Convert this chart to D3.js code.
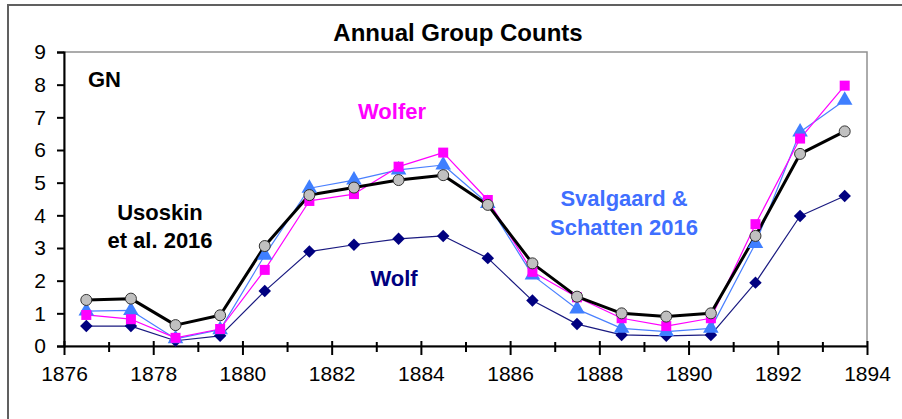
<!DOCTYPE html>
<html>
<head>
<meta charset="utf-8">
<script src="https://cdn.jsdelivr.net/npm/d3@7"></script>
<style>
  body { margin: 0; background: #fff; }
  svg { display: block; font-family: Arial, "Liberation Sans", sans-serif; }
</style>
</head>
<body>
<svg width="902" height="419"></svg>
<script>
// years are mid-year (annual means)
var years = [1876.5, 1877.5, 1878.5, 1879.5, 1880.5, 1881.5, 1882.5, 1883.5, 1884.5,
             1885.5, 1886.5, 1887.5, 1888.5, 1889.5, 1890.5, 1891.5, 1892.5, 1893.5];
var usoskin   = [1.41, 1.45, 0.64, 0.94, 3.06, 4.62, 4.85, 5.08, 5.23, 4.32, 2.53, 1.51, 1.00, 0.90, 1.00, 3.37, 5.88, 6.57];
var wolfer    = [0.95, 0.82, 0.25, 0.52, 2.33, 4.44, 4.65, 5.49, 5.92, 4.47, 2.27, 1.49, 0.85, 0.61, 0.85, 3.73, 6.35, 7.97];
var svalgaard = [1.07, 1.09, 0.22, 0.50, 2.78, 4.83, 5.08, 5.39, 5.54, 4.36, 2.17, 1.13, 0.54, 0.44, 0.54, 3.14, 6.55, 7.52];
var wolf      = [0.61, 0.61, 0.16, 0.31, 1.68, 2.89, 3.10, 3.28, 3.37, 2.69, 1.39, 0.67, 0.34, 0.31, 0.34, 1.94, 3.98, 4.59];
var yTicks = [0, 1, 2, 3, 4, 5, 6, 7, 8, 9];
var xTicks = d3.range(1876, 1895, 1);

var svg = d3.select('svg');
var plotL = 64, plotR = 867, plotT = 52, plotB = 346;

var x = d3.scaleLinear().domain([1876, 1894]).range([plotL, plotR]);
var y = d3.scaleLinear().domain([0, 9]).range([plotB, plotT]);

// outer chart frame
svg.append('rect')
    .attr('x', 8).attr('y', 5)
    .attr('width', 1000).attr('height', 1000)
    .style('fill', 'none')
    .style('stroke', '#606060')
    .style('stroke-width', 2);

svg.append('text')
    .attr('x', 458).attr('y', 41)
    .attr('text-anchor', 'middle')
    .style('font-size', '24px').style('font-weight', 'bold')
    .text('Annual Group Counts');

// plot area border (top/right gray)
svg.append('rect')
    .attr('x', plotL).attr('y', plotT)
    .attr('width', plotR - plotL).attr('height', plotB - plotT)
    .style('fill', 'none')
    .style('stroke', '#909090')
    .style('stroke-width', 1.5);

// y axis
var yAxis = d3.axisLeft(y).tickValues(yTicks).tickSize(7).tickPadding(11);
var gy = svg.append('g').attr('transform', 'translate(' + plotL + ',0)').call(yAxis);
gy.select('.domain').style('stroke', '#000').style('stroke-width', 2);
gy.selectAll('.tick line').style('stroke', '#000').style('stroke-width', 2);
gy.selectAll('.tick text').style('font-size', '21px').style('font-family', 'Arial, "Liberation Sans", sans-serif').attr('fill', '#000');

// x axis: ticks every year, labels on even years
var xAxis = d3.axisBottom(x).tickValues(xTicks).tickSize(0).tickPadding(20)
    .tickFormat(function (d) { return d % 2 === 0 ? d : ''; });
var gx = svg.append('g').attr('transform', 'translate(0,' + plotB + ')').call(xAxis);
gx.select('.domain').style('stroke', '#000').style('stroke-width', 2);
gx.selectAll('.tick line')
    .attr('y1', function (d) { return d % 2 === 0 ? -5 : -4; })
    .attr('y2', function (d) { return d % 2 === 0 ? 9 : 6; })
    .style('stroke', '#000').style('stroke-width', 2);
gx.selectAll('.tick text').style('font-size', '21px').style('font-family', 'Arial, "Liberation Sans", sans-serif').attr('fill', '#000');

function series(vals, color, width) {
    var line = d3.line()
        .x(function (d, i) { return x(years[i]); })
        .y(function (d) { return y(d); });
    svg.append('path')
        .datum(vals)
        .attr('d', line)
        .style('fill', 'none')
        .style('stroke', color)
        .style('stroke-width', width)
        .style('stroke-linejoin', 'round');
}

function markers(vals, symbolType, size, fill, stroke, rot) {
    svg.append('g').selectAll('path')
        .data(vals)
        .enter().append('path')
        .attr('d', d3.symbol().type(symbolType).size(size))
        .attr('transform', function (d, i) {
            return 'translate(' + x(years[i]) + ',' + y(d) + ')' + (rot ? ' rotate(' + rot + ')' : '');
        })
        .style('fill', fill)
        .style('stroke', stroke || 'none')
        .style('stroke-width', 1);
}

// draw order: Wolf, Svalgaard, Wolfer, Usoskin
series(wolf, '#1a1a80', 1.2);
series(svalgaard, '#4a80ff', 1.2);
series(wolfer, '#ff00ff', 1.2);
series(usoskin, '#000', 3);

markers(wolf, d3.symbolSquare, 78, '#000080', null, 45);
markers(svalgaard, d3.symbolTriangle, 105, '#3f7fff', null, 0);
markers(wolfer, d3.symbolSquare, 100, '#ff00ff', null, 0);
markers(usoskin, d3.symbolCircle, 95, '#c0c0c0', '#333', 0);

// annotations
function label(txt, lx, ly, color, anchor) {
    svg.append('text')
        .attr('x', lx).attr('y', ly)
        .attr('text-anchor', anchor || 'start')
        .style('font-size', '22px').style('font-weight', 'bold')
        .style('fill', color)
        .text(txt);
}
label('GN', 88, 87, '#000');
label('Wolfer', 358, 119, '#ff00ff');
label('Usoskin', 160, 220, '#000', 'middle');
label('et al. 2016', 160, 248, '#000', 'middle');
label('Svalgaard &', 624, 206, '#3f6fff', 'middle');
label('Schatten 2016', 624, 235, '#3f6fff', 'middle');
label('Wolf', 394, 286, '#000080', 'middle');
</script>
</body>
</html>
